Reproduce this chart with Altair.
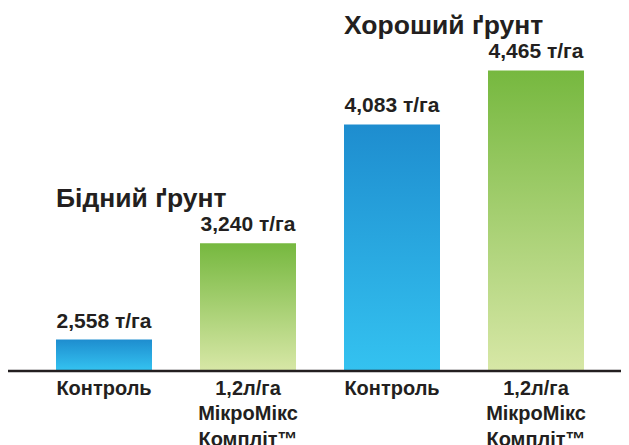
import altair as alt
import pandas as pd

# ---- data ----
categories = ["0#Контроль", "1#1,2л/га|МікроМікс|Компліт™",
              "2#Контроль", "3#1,2л/га|МікроМікс|Компліт™"]
values = [2.558, 3.240, 4.083, 4.465]
value_labels = ["2,558 т/га", "3,240 т/га", "4,083 т/га", "4,465 т/га"]
kinds = ["control", "treated", "control", "treated"]
group_titles = ["Бідний ґрунт", "Хороший ґрунт"]
group_title_x = [categories[0], categories[2]]
group_title_y = [values[1], values[3]]

y_base = 2.342
y_top = 4.908

FONT = "Liberation Sans"
INK = "#231F20"

df = pd.DataFrame({"cat": categories, "value": values,
                   "label": value_labels, "kind": kinds})
titles_df = pd.DataFrame({"cat": group_title_x, "value": group_title_y,
                          "title": group_titles})

blue = alt.Gradient(gradient="linear", x1=0, x2=0, y1=0, y2=1,
                    stops=[alt.GradientStop(color="#1E8DCF", offset=0),
                           alt.GradientStop(color="#34C2F0", offset=1)])
green = alt.Gradient(gradient="linear", x1=0, x2=0, y1=0, y2=1,
                     stops=[alt.GradientStop(color="#76B83F", offset=0),
                            alt.GradientStop(color="#D7E7A6", offset=1)])

xenc = alt.X("cat:N", sort=categories,
             scale=alt.Scale(paddingInner=1/3, paddingOuter=1/6),
             axis=alt.Axis(title=None, labelAngle=0, domain=False, ticks=False, grid=False,
                           labelExpr="split(split(datum.value, '#')[1], '|')",
                           labelFont=FONT, labelFontSize=20, labelFontWeight="bold",
                           labelColor=INK, labelLineHeight=25.5, labelPadding=8,
                           labelLimit=300))
yscale = alt.Scale(domain=[y_base, y_top], zero=False, nice=False)
yenc = alt.Y("value:Q", scale=yscale, axis=None)

base = alt.Chart(df)

bars_c = base.transform_filter(alt.datum.kind == "control").mark_bar(color=blue).encode(
    x=xenc, y=yenc, y2=alt.datum(y_base))
bars_t = base.transform_filter(alt.datum.kind == "treated").mark_bar(color=green).encode(
    x=xenc, y=yenc, y2=alt.datum(y_base))

labels = base.mark_text(font=FONT, fontSize=21, fontWeight="bold", color=INK,
                        baseline="alphabetic", dy=-12).encode(
    x=xenc, y=yenc, text="label:N")

titles = alt.Chart(titles_df).mark_text(font=FONT, fontSize=26.5, fontWeight="bold",
                                        color=INK, align="left", baseline="alphabetic",
                                        dx=-48, dy=-36).encode(
    x=xenc, y=yenc, text="title:N")

baseline = alt.Chart(pd.DataFrame({"v": [y_base]})).mark_rule(
    color=INK, strokeWidth=2.5).encode(
    x=alt.value(-24), x2=alt.value(600), y=alt.value(363))

chart = alt.layer(bars_c, bars_t, labels, titles, baseline).properties(
    width=576, height=362,
    background="white",
    autosize=alt.AutoSizeParams(type="none"),
    padding={"left": 24, "top": 0, "right": 13, "bottom": 75},
).configure_view(stroke="transparent", strokeWidth=0)

chart.save("out.html", embed_options={"renderer": "svg", "actions": False})
